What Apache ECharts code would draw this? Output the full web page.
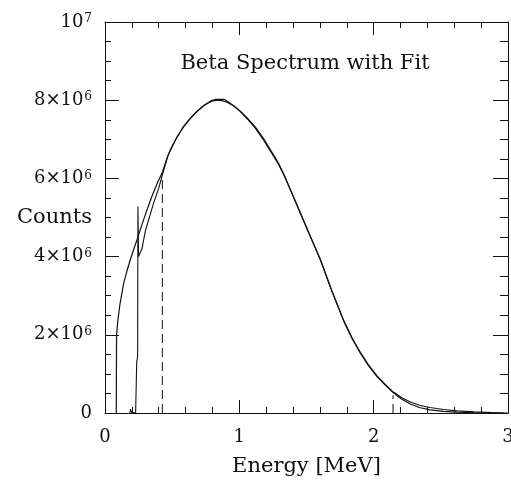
<!DOCTYPE html>
<html>
<head>
<meta charset="utf-8">
<script src="https://cdn.jsdelivr.net/npm/echarts@6/dist/echarts.min.js"></script>
<style>
html,body{margin:0;padding:0;background:#fff;}
#chart{width:511px;height:480px;}
</style>
</head>
<body>
<div id="chart"></div>
<script>
// ---- data ----
const titleText = 'Beta Spectrum with Fit';
const xName = 'Energy [MeV]';
const yName = 'Counts';
const xTicks = [0, 1, 2, 3];
const yTickLabels = ['0', '2×10^6', '4×10^6', '6×10^6', '8×10^6', '10^7'];

// fit curve
const fitEnergy = [0.084,0.086,0.095,0.11,0.139,0.165,0.188,0.215,0.246,0.28,0.313,0.35,0.39,0.424,0.455,0.486,0.535,0.585,0.635,0.685,0.74,0.79,0.834,0.87,0.908,0.96,1.007,1.06,1.12,1.181,1.24,1.29,1.33,1.40,1.454,1.53,1.603,1.69,1.777,1.84,1.901,1.96,2.025,2.09,2.149,2.21,2.273,2.34,2.42,2.52,2.62,2.75,2.9,3.0];
const fitCounts = [0,2000000,2350000,2750000,3320000,3650000,3920000,4200000,4510000,4870000,5200000,5550000,5880000,6130000,6450000,6730000,7050000,7320000,7530000,7710000,7870000,7970000,8000000,7990000,7950000,7850000,7710000,7520000,7280000,6980000,6650000,6370000,6100000,5550000,5110000,4500000,3920000,3100000,2350000,1900000,1530000,1220000,930000,700000,510000,350000,230000,140000,80000,40000,20000,6000,0,0];

// measured spectrum
const dataEnergy = [0.185,0.19,0.197,0.205,0.228,0.234,0.236,0.243,0.245,0.25,0.262,0.275,0.30,0.33,0.36,0.40,0.43,0.47,0.535,0.585,0.635,0.685,0.74,0.79,0.82,0.89,0.93,1.007,1.06,1.12,1.181,1.24,1.29,1.33,1.40,1.454,1.53,1.603,1.69,1.777,1.84,1.901,1.96,2.025,2.09,2.149,2.21,2.273,2.34,2.42,2.52,2.62,2.75,2.88,2.97];
const dataCounts = [0,100000,20000,0,0,50000,1300000,1450000,5280000,4000000,4050000,4200000,4650000,5000000,5350000,5750000,6120000,6600000,7050000,7330000,7540000,7720000,7880000,7990000,8020000,8020000,7930000,7720000,7540000,7310000,7020000,6690000,6400000,6120000,5560000,5120000,4510000,3930000,3120000,2370000,1920000,1550000,1240000,950000,720000,530000,390000,280000,200000,140000,90000,55000,30000,10000,0];

// fit range markers (dashed)
const cutLowEnergy = [0.427, 0.427];
const cutLowCounts = [0, 6100000];
const cutHighEnergy = [2.144, 2.144];
const cutHighCounts = [0, 450000];

// ---- build ----
const zip = (a, b) => a.map((v, i) => [v, b[i]]);
const FONT = 'DejaVu Serif';
const INK = '#111';

function yLabel(v) {
  const idx = Math.round(v / 2000000);
  const s = yTickLabels[idx];
  if (s === undefined) return '';
  const parts = s.split('^');
  if (parts.length === 1) return '{b|' + parts[0] + '}';
  return '{b|' + parts[0] + '}{s|' + parts[1] + '}';
}

const tickBase = {show: true, inside: true, length: 13, lineStyle: {color: INK, width: 1}};
const minorBase = (n) => ({show: true, splitNumber: n, length: 6, lineStyle: {color: INK, width: 1}});
const lineBase = {show: true, onZero: false, lineStyle: {color: INK, width: 1}};

const chart = echarts.init(document.getElementById('chart'), null, {renderer: 'canvas'});
chart.setOption({
  animation: false,
  backgroundColor: '#fff',
  title: {
    text: titleText,
    left: 300,
    textAlign: 'center',
    top: 48,
    textStyle: {fontFamily: FONT, fontSize: 21, fontWeight: 'normal', color: INK}
  },
  grid: {left: 105, top: 22, width: 403, height: 391, containLabel: false, outerBoundsMode: 'none'},
  xAxis: [{
    type: 'value', min: 0, max: 3, interval: 1, position: 'bottom',
    name: xName, nameLocation: 'middle', nameGap: 43, nameMoveOverlap: false,
    nameTextStyle: {fontFamily: FONT, fontSize: 21, color: INK},
    axisLine: lineBase, axisTick: tickBase, minorTick: minorBase(5),
    splitLine: {show: false}, minorSplitLine: {show: false},
    axisLabel: {fontFamily: FONT, fontSize: 18, color: INK, margin: 15,
      formatter: v => xTicks.indexOf(v) >= 0 ? String(v) : ''}
  }, {
    type: 'value', min: 0, max: 3, interval: 1, position: 'top',
    axisLine: lineBase, axisTick: tickBase, minorTick: minorBase(5),
    splitLine: {show: false}, axisLabel: {show: false}
  }],
  yAxis: [{
    type: 'value', min: 0, max: 10000000, interval: 2000000, position: 'left',
    name: yName, nameLocation: 'middle', nameRotate: 0, nameGap: 13, nameMoveOverlap: false,
    nameTextStyle: {fontFamily: FONT, fontSize: 21, color: INK, align: 'right', verticalAlign: 'middle'},
    axisLine: lineBase, axisTick: Object.assign({}, tickBase, {length: 14}), minorTick: minorBase(4),
    splitLine: {show: false}, minorSplitLine: {show: false},
    axisLabel: {margin: 13, formatter: yLabel,
      rich: {
        b: {fontFamily: FONT, fontSize: 18, color: INK},
        s: {fontFamily: FONT, fontSize: 12, color: INK, verticalAlign: 'top', padding: [0, 0, 6, 1]}
      }}
  }, {
    type: 'value', min: 0, max: 10000000, interval: 2000000, position: 'right',
    axisLine: lineBase, axisTick: Object.assign({}, tickBase, {length: 15}), minorTick: Object.assign(minorBase(4), {length: 8}),
    splitLine: {show: false}, axisLabel: {show: false}
  }],
  series: [{
    name: 'Fit', type: 'line', data: zip(fitEnergy, fitCounts),
    showSymbol: false, symbol: 'none', clip: true,
    lineStyle: {color: INK, width: 1.2}
  }, {
    name: 'Data', type: 'line', data: zip(dataEnergy, dataCounts),
    showSymbol: false, symbol: 'none', clip: true,
    lineStyle: {color: INK, width: 1.1}
  }, {
    name: 'Fit start', type: 'line', data: zip(cutLowEnergy, cutLowCounts),
    showSymbol: false, symbol: 'none',
    lineStyle: {color: INK, width: 1, type: [9, 5]}
  }, {
    name: 'Fit end', type: 'line', data: zip(cutHighEnergy, cutHighCounts),
    showSymbol: false, symbol: 'none',
    lineStyle: {color: INK, width: 1, type: [9, 5]}
  }]
});
</script>
</body>
</html>
